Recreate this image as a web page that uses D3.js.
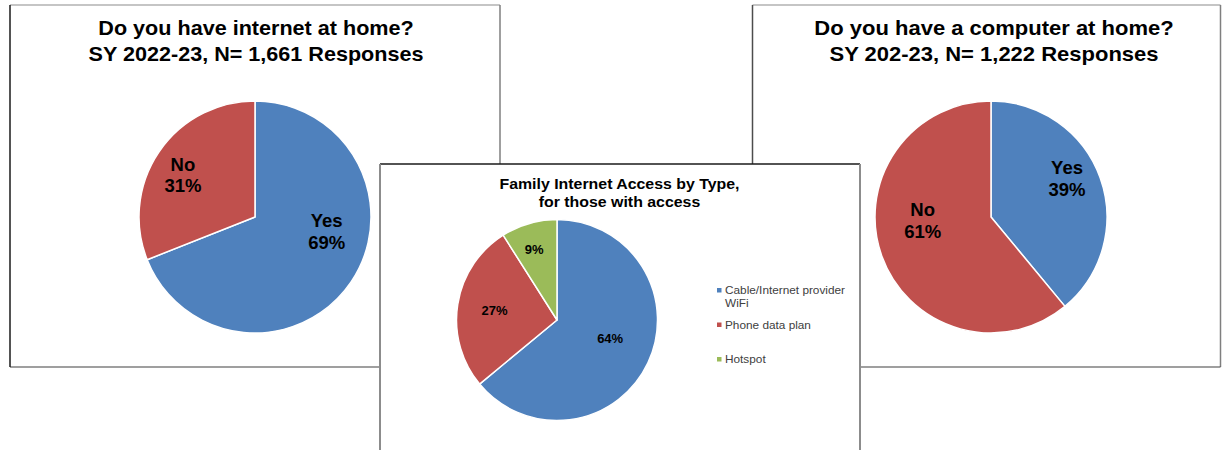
<!DOCTYPE html>
<html>
<head>
<meta charset="utf-8">
<script src="https://cdn.jsdelivr.net/npm/d3@7"></script>
<style>
  html, body { margin: 0; padding: 0; background: #fff; }
  svg { display: block; font-family: "Liberation Sans", Arial, sans-serif; }
</style>
</head>
<body>
<svg id="chart" width="1223" height="450"></svg>
<script>
// Survey results
const internetCategories = ["Yes", "No"];
const internetValues = [69, 31];

const computerCategories = ["Yes", "No"];
const computerValues = [39, 61];

const accessCategories = ["Cable/Internet provider WiFi", "Phone data plan", "Hotspot"];
const accessValues = [64, 27, 9];

const titles = {
  internet: ["Do you have internet at home?", "SY 2022-23, N= 1,661 Responses"],
  computer: ["Do you have a computer at home?", "SY 202-23, N= 1,222 Responses"],
  access: ["Family Internet Access by Type,", "for those with access"]
};

const BLUE = "#4F81BD", RED = "#C0504D", GREEN = "#9BBB59";

const svg = d3.select("#chart");

// white card with individually coloured edges: [top, right, bottom, left]
function panel(x, y, w, h, edges, sw) {
  svg.append("rect").attr("x", x).attr("y", y).attr("width", w).attr("height", h).attr("fill", "#fff");
  const segs = [
    [x, y, x + w, y], [x + w, y, x + w, y + h],
    [x, y + h, x + w, y + h], [x, y, x, y + h]
  ];
  segs.forEach((s, i) => svg.append("line")
    .attr("x1", s[0]).attr("y1", s[1]).attr("x2", s[2]).attr("y2", s[3])
    .attr("stroke", edges[i]).attr("stroke-width", sw[i]));
}

function title(lines, cx, y0, size, lh, sx) {
  const g = svg.append("g").attr("transform", `translate(${cx},0) scale(${sx},1)`);
  const t = g.append("text")
    .attr("text-anchor", "middle")
    .attr("font-weight", "bold")
    .attr("font-size", size)
    .attr("fill", "#000");
  lines.forEach((l, i) => t.append("tspan").attr("x", 0).attr("y", y0 + i * lh).text(l));
}

function pie(cats, vals, colors, cx, cy, r, opts) {
  const g = svg.append("g").attr("transform", `translate(${cx},${cy})`);
  const arcs = d3.pie().sort(null).value(d => d)(vals);
  const arc = d3.arc().innerRadius(0).outerRadius(r);
  g.selectAll("path.slice").data(arcs).join("path")
    .attr("class", "slice")
    .attr("d", arc)
    .attr("fill", (d, i) => colors[i])
    .attr("stroke", "#fff")
    .attr("stroke-width", 1.5)
    .attr("stroke-linejoin", "round");

  arcs.forEach((d, i) => {
    const mid = (d.startAngle + d.endAngle) / 2 + opts.shift[i];
    const lr = r * opts.labelFrac[i];
    const labelArc = d3.arc().innerRadius(lr).outerRadius(lr);
    const p = labelArc.centroid({ startAngle: mid, endAngle: mid });
    const t = g.append("text")
      .attr("text-anchor", "middle")
      .attr("font-weight", "bold")
      .attr("font-size", opts.fontSize)
      .attr("fill", "#000");
    const lines = opts.showCategory ? [cats[i], vals[i] + "%"] : [vals[i] + "%"];
    const lh = opts.fontSize * 1.18;
    const top = p[1] - (lines.length - 1) * lh / 2 + opts.fontSize * 0.36;
    lines.forEach((l, k) => t.append("tspan").attr("x", p[0]).attr("y", top + k * lh).text(l));
  });
}

// Left panel: internet at home
panel(10, 5, 490, 362, ["#8c8c8c", "#7f7f7f", "#404040", "#1a1a1a"], [1.2, 1.5, 1.2, 1.5]);
title(titles.internet, 256, 35.5, 20, 26, 1.08);
pie(internetCategories, internetValues, [BLUE, RED], 255, 217, 116,
    { labelFrac: [0.63, 0.72], shift: [-0.40, -0.068], fontSize: 18.5, showCategory: true });

// Right panel: computer at home
panel(752.5, 5, 468, 362, ["#8c8c8c", "#7f7f7f", "#404040", "#4d4d4d"], [1.2, 1.5, 1.2, 1.5]);
title(titles.computer, 994, 35.5, 20, 26, 1.1);
pie(computerCategories, computerValues, [BLUE, RED], 991, 217, 116,
    { labelFrac: [0.735, 0.59], shift: [-0.124, 0.293], fontSize: 18.5, showCategory: true });

// Middle panel: access type, drawn over the other two
panel(380, 164, 480, 320, ["#1a1a1a", "#8c8c8c", "#8c8c8c", "#8c8c8c"], [1.5, 2, 2, 2]);
title(titles.access, 619.5, 189, 15, 18, 1.06);
pie(accessCategories, accessValues, [BLUE, RED, GREEN], 557, 320, 100.5,
    { labelFrac: [0.56, 0.63, 0.74], shift: [-0.105, 0, -0.03], fontSize: 13, showCategory: false });

// Legend for the access chart
const legend = svg.append("g").attr("transform", "translate(717,294)");
const legendColors = [BLUE, RED, GREEN];
accessCategories.forEach((c, i) => {
  const item = legend.append("g").attr("transform", `translate(0,${i * 34.5})`);
  item.append("rect").attr("x", 0).attr("y", -6).attr("width", 4.5).attr("height", 4.5)
    .attr("fill", legendColors[i]);
  const t = item.append("text").attr("x", 8).attr("y", 0)
    .attr("font-size", 11.8).attr("fill", "#404040");
  // wrap long names within the legend width
  const words = c.split(" ");
  let line = [], tspan = t.append("tspan").attr("x", 8).attr("dy", 0);
  words.forEach(w => {
    line.push(w);
    tspan.text(line.join(" "));
    if (tspan.node().getComputedTextLength() > 128 && line.length > 1) {
      line.pop();
      tspan.text(line.join(" "));
      line = [w];
      tspan = t.append("tspan").attr("x", 8).attr("dy", 13).text(w);
    }
  });
});
</script>
</body>
</html>
